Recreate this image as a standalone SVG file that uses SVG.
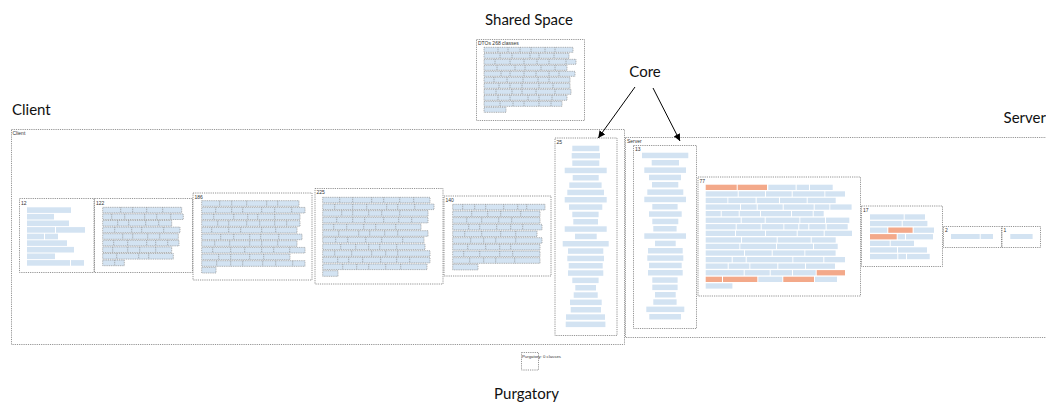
<svg xmlns="http://www.w3.org/2000/svg" width="1046" height="403" viewBox="0 0 1046 403">
<style>
.bg{fill:#fff}
.box{fill:none;stroke:#7a7a7a;stroke-width:.8;stroke-dasharray:1.2 1}
.b{fill:#d3e3f2}
.o{fill:#f3a98a}
.d{fill:#d3e3f2;stroke:#8c8c8c;stroke-width:.7;stroke-dasharray:1 .8}
.sep{fill:none;stroke:#8c8c8c;stroke-width:.7;stroke-dasharray:1 .8}
.cl{font-family:"Liberation Sans",Arial,sans-serif;font-size:5px;fill:#333}
.big{font-family:Lato,"Noto Sans",sans-serif;font-size:15px;fill:#111}
.arr{stroke:#000;stroke-width:1;fill:none}
</style>
<defs>
<marker id="ah" viewBox="0 0 10 10" refX="10" refY="5" markerWidth="7" markerHeight="7" orient="auto" markerUnits="userSpaceOnUse">
<path d="M0 0L10 5L0 10z" fill="#000"/>
</marker>
</defs>
<rect class="bg" width="1046" height="403"/>

<text class="big" x="529" y="25" text-anchor="middle">Shared Space</text>
<text class="big" x="12" y="115">Client</text>
<text class="big" x="1046" y="123" text-anchor="end">Server</text>
<text class="big" x="645" y="77" text-anchor="middle">Core</text>
<text class="big" x="526.5" y="399" text-anchor="middle">Purgatory</text>

<g id="shared">
<rect class="box" x="476.5" y="39.5" width="108" height="81"/>
<text class="cl" x="478" y="45">DTOs 268 classes</text>
<rect class="d" x="484" y="47.3" width="89" height="5"/>
<rect class="d" x="484" y="53.3" width="85" height="5"/>
<rect class="d" x="484" y="59.3" width="92" height="5"/>
<rect class="d" x="484" y="65.3" width="83" height="5"/>
<rect class="d" x="484" y="71.3" width="91" height="5"/>
<rect class="d" x="484" y="77.3" width="86" height="5"/>
<rect class="d" x="484" y="83.3" width="86" height="5"/>
<rect class="d" x="484" y="89.3" width="87" height="5"/>
<rect class="d" x="484" y="95.3" width="83" height="5"/>
<rect class="d" x="484" y="101.3" width="78" height="5"/>
<rect class="d" x="484" y="107.3" width="22" height="5"/>
<path class="sep" d="M498 47.3v5m10-5v5m12-5v5m11-5v5m14-5v5m10-5v5M500 53.3v5m12-5v5m18-5v5m9-5v5m15-5v5M495 59.3v5m15-5v5m14-5v5m13-5v5m12-5v5m17-5v5M497 65.3v5m18-5v5m10-5v5m16-5v5m14-5v5M501 71.3v5m9-5v5m14-5v5m12-5v5m13-5v5m10-5v5M494 77.3v5m13-5v5m16-5v5m15-5v5m11-5v5M499 83.3v5m11-5v5m12-5v5m17-5v5m14-5v5M496 89.3v5m16-5v5m10-5v5m14-5v5m19-5v5M498 95.3v5m12-5v5m18-5v5m11-5v5m13-5v5M500 101.3v5m13-5v5m11-5v5m15-5v5m12-5v5"/>
</g>

<g id="client">
<rect class="box" x="11.5" y="129.5" width="613" height="215"/>
<text class="cl" x="12.5" y="134.5">Client</text>
</g>

<g id="server">
<rect class="box" x="625.5" y="137.5" width="430" height="200"/>
<text class="cl" x="627" y="142.5">Server</text>
</g>

<g id="purgatory">
<rect class="box" x="521.5" y="352.5" width="17" height="17.5"/>
<text class="cl" x="522" y="358" style="font-size:4.3px">Purgatory: 0 classes</text>
</g>

<g id="c12">
<rect class="box" x="19.5" y="198.5" width="74.5" height="74"/>
<text class="cl" x="21" y="204.5">12</text>
<rect class="b" x="27" y="207.3" width="44" height="5.6"/>
<rect class="b" x="27" y="213.9" width="27" height="5.6"/>
<rect class="b" x="27" y="220.5" width="42" height="5.6"/>
<rect class="b" x="27" y="227.1" width="28" height="5.6"/>
<rect class="b" x="56" y="227.1" width="29" height="5.6"/>
<rect class="b" x="27" y="233.7" width="17" height="5.6"/>
<rect class="b" x="45" y="233.7" width="13" height="5.6"/>
<rect class="b" x="27" y="240.3" width="40" height="5.6"/>
<rect class="b" x="27" y="246.9" width="47" height="5.6"/>
<rect class="b" x="27" y="253.5" width="28" height="5.6"/>
<rect class="b" x="27" y="260.1" width="43" height="5.6"/>
<rect class="b" x="71" y="260.1" width="13" height="5.6"/>
</g>

<g id="c122">
<rect class="box" x="94.5" y="198.5" width="98" height="74"/>
<text class="cl" x="96" y="204.5">122</text>
<rect class="d" x="102.7" y="207.3" width="79" height="5.6"/>
<rect class="d" x="102.7" y="213.9" width="80.6" height="5.6"/>
<rect class="d" x="102.7" y="220.5" width="69" height="5.6"/>
<rect class="d" x="102.7" y="227.1" width="77.3" height="5.6"/>
<rect class="d" x="102.7" y="233.7" width="75.6" height="5.6"/>
<rect class="d" x="102.7" y="240.3" width="76.3" height="5.6"/>
<rect class="d" x="102.7" y="246.9" width="69" height="5.6"/>
<rect class="d" x="102.7" y="253.5" width="70.6" height="5.6"/>
<rect class="d" x="102.7" y="260.1" width="21.6" height="5.6"/>
<path class="sep" d="M120.7 207.3v5.6m12-5.6v5.6m14-5.6v5.6m16-5.6v5.6M111.7 213.9v5.6m13-5.6v5.6m20-5.6v5.6m12-5.6v5.6m14-5.6v5.6M117.7 220.5v5.6m11-5.6v5.6m17-5.6v5.6m13-5.6v5.6M114.7 227.1v5.6m17-5.6v5.6m10-5.6v5.6m22-5.6v5.6M122.7 233.7v5.6m10-5.6v5.6m15-5.6v5.6m12-5.6v5.6M113.7 240.3v5.6m14-5.6v5.6m19-5.6v5.6m9-5.6v5.6m12-5.6v5.6M112.7 246.9v5.6m15-5.6v5.6m12-5.6v5.6m16-5.6v5.6M116.7 253.5v5.6m22-5.6v5.6m10-5.6v5.6M114.7 260.1v5.6"/>
</g>

<g id="c186">
<rect class="box" x="193" y="193" width="119" height="87"/>
<text class="cl" x="194.5" y="198.5">186</text>
<rect class="d" x="201.7" y="200.7" width="97.3" height="5.6"/>
<rect class="d" x="201.7" y="207.4" width="103.3" height="5.6"/>
<rect class="d" x="201.7" y="214" width="98.3" height="5.6"/>
<rect class="d" x="201.7" y="220.7" width="98.3" height="5.6"/>
<rect class="d" x="201.7" y="227.4" width="95.3" height="5.6"/>
<rect class="d" x="201.7" y="234.1" width="100.3" height="5.6"/>
<rect class="d" x="201.7" y="240.7" width="95.3" height="5.6"/>
<rect class="d" x="201.7" y="247.4" width="103.3" height="5.6"/>
<rect class="d" x="201.7" y="254.1" width="88.3" height="5.6"/>
<rect class="d" x="201.7" y="260.7" width="103.3" height="5.6"/>
<rect class="d" x="201.7" y="267.4" width="14.3" height="5.6"/>
<path class="sep" d="M219.7 200.7v5.6m12-5.6v5.6m15-5.6v5.6m20-5.6v5.6m11-5.6v5.6M215.7 207.4v5.6m16-5.6v5.6m11-5.6v5.6m19-5.6v5.6m13-5.6v5.6m17-5.6v5.6M213.7 214v5.6m20-5.6v5.6m14-5.6v5.6m10-5.6v5.6m17-5.6v5.6M217.7 220.7v5.6m11-5.6v5.6m18-5.6v5.6m13-5.6v5.6m15-5.6v5.6m12-5.6v5.6M211.7 227.4v5.6m17-5.6v5.6m12-5.6v5.6m21-5.6v5.6m14-5.6v5.6M220.7 234.1v5.6m13-5.6v5.6m16-5.6v5.6m11-5.6v5.6m18-5.6v5.6M214.7 240.7v5.6m15-5.6v5.6m20-5.6v5.6m12-5.6v5.6m16-5.6v5.6M212.7 247.4v5.6m18-5.6v5.6m14-5.6v5.6m17-5.6v5.6m12-5.6v5.6m16-5.6v5.6M218.7 254.1v5.6m12-5.6v5.6m19-5.6v5.6m14-5.6v5.6M216.7 260.7v5.6m14-5.6v5.6m12-5.6v5.6m20-5.6v5.6m13-5.6v5.6m17-5.6v5.6"/>
</g>

<g id="c225">
<rect class="box" x="315" y="188.5" width="128" height="95.5"/>
<text class="cl" x="316.5" y="194">225</text>
<rect class="d" x="322.7" y="197.3" width="107.3" height="5.6"/>
<rect class="d" x="322.7" y="204" width="111.3" height="5.6"/>
<rect class="d" x="322.7" y="210.6" width="105.3" height="5.6"/>
<rect class="d" x="322.7" y="217.3" width="105.3" height="5.6"/>
<rect class="d" x="322.7" y="224" width="98.3" height="5.6"/>
<rect class="d" x="322.7" y="230.7" width="105.3" height="5.6"/>
<rect class="d" x="322.7" y="237.3" width="101.3" height="5.6"/>
<rect class="d" x="322.7" y="244" width="102.3" height="5.6"/>
<rect class="d" x="322.7" y="250.7" width="107.3" height="5.6"/>
<rect class="d" x="322.7" y="257.3" width="107.3" height="5.6"/>
<rect class="d" x="322.7" y="264" width="104.3" height="5.6"/>
<rect class="d" x="322.7" y="270.7" width="15.3" height="5.6"/>
<path class="sep" d="M339.7 197.3v5.6m13-5.6v5.6m19-5.6v5.6m12-5.6v5.6m16-5.6v5.6m14-5.6v5.6M334.7 204v5.6m18-5.6v5.6m14-5.6v5.6m20-5.6v5.6m11-5.6v5.6m17-5.6v5.6M341.7 210.6v5.6m11-5.6v5.6m16-5.6v5.6m13-5.6v5.6m18-5.6v5.6M336.7 217.3v5.6m16-5.6v5.6m12-5.6v5.6m19-5.6v5.6m15-5.6v5.6m13-5.6v5.6M333.7 224v5.6m13-5.6v5.6m17-5.6v5.6m12-5.6v5.6m20-5.6v5.6M338.7 230.7v5.6m20-5.6v5.6m11-5.6v5.6m15-5.6v5.6m13-5.6v5.6M335.7 237.3v5.6m12-5.6v5.6m18-5.6v5.6m16-5.6v5.6m21-5.6v5.6M340.7 244v5.6m15-5.6v5.6m13-5.6v5.6m11-5.6v5.6m17-5.6v5.6M334.7 250.7v5.6m17-5.6v5.6m20-5.6v5.6m14-5.6v5.6m12-5.6v5.6M337.7 257.3v5.6m11-5.6v5.6m14-5.6v5.6m18-5.6v5.6m16-5.6v5.6m13-5.6v5.6M342.7 264v5.6m14-5.6v5.6m12-5.6v5.6m17-5.6v5.6m15-5.6v5.6"/>
</g>

<g id="c140">
<rect class="box" x="444" y="196" width="107" height="80"/>
<text class="cl" x="445.5" y="201.5">140</text>
<rect class="d" x="452.7" y="204.3" width="92.3" height="5.6"/>
<rect class="d" x="452.7" y="211" width="87.3" height="5.6"/>
<rect class="d" x="452.7" y="217.6" width="87.3" height="5.6"/>
<rect class="d" x="452.7" y="224.3" width="89.3" height="5.6"/>
<rect class="d" x="452.7" y="231" width="84.3" height="5.6"/>
<rect class="d" x="452.7" y="237.7" width="89.3" height="5.6"/>
<rect class="d" x="452.7" y="244.3" width="87.3" height="5.6"/>
<rect class="d" x="452.7" y="251" width="87.3" height="5.6"/>
<rect class="d" x="452.7" y="257.7" width="87.3" height="5.6"/>
<rect class="d" x="452.7" y="264.3" width="25.3" height="5.6"/>
<path class="sep" d="M462.7 204.3v5.6m12-5.6v5.6m11-5.6v5.6m18-5.6v5.6m14-5.6v5.6m9-5.6v5.6M471.7 211v5.6m16-5.6v5.6m13-5.6v5.6m20-5.6v5.6M466.7 217.6v5.6m15-5.6v5.6m17-5.6v5.6m13-5.6v5.6M468.7 224.3v5.6m11-5.6v5.6m17-5.6v5.6m14-5.6v5.6m12-5.6v5.6M464.7 231v5.6m17-5.6v5.6m19-5.6v5.6m15-5.6v5.6M470.7 237.7v5.6m13-5.6v5.6m12-5.6v5.6m20-5.6v5.6M467.7 244.3v5.6m18-5.6v5.6m14-5.6v5.6m11-5.6v5.6M463.7 251v5.6m16-5.6v5.6m20-5.6v5.6m13-5.6v5.6M469.7 257.7v5.6m14-5.6v5.6m12-5.6v5.6m19-5.6v5.6"/>
</g>

<g id="c25">
<rect class="box" x="555" y="138" width="62" height="197.5"/>
<text class="cl" x="556.5" y="143.5">25</text>
<rect class="b" x="572.3" y="145.7" width="27" height="5.5"/>
<rect class="b" x="571.7" y="153" width="28.3" height="5.5"/>
<rect class="b" x="572.3" y="160.4" width="27" height="5.5"/>
<rect class="b" x="564.7" y="167.7" width="42" height="5.5"/>
<rect class="b" x="572.7" y="175" width="26" height="5.5"/>
<rect class="b" x="569.3" y="182.4" width="32.3" height="5.5"/>
<rect class="b" x="567.3" y="189.7" width="36.7" height="5.5"/>
<rect class="b" x="564.7" y="197" width="42" height="5.5"/>
<rect class="b" x="569" y="204.3" width="33.3" height="5.5"/>
<rect class="b" x="572.3" y="211.7" width="26.3" height="5.5"/>
<rect class="b" x="573.3" y="219" width="24.7" height="5.5"/>
<rect class="b" x="564.7" y="226.3" width="42" height="5.5"/>
<rect class="b" x="575" y="233.7" width="21.7" height="5.5"/>
<rect class="b" x="562.7" y="241" width="46" height="5.5"/>
<rect class="b" x="568" y="248.3" width="35.3" height="5.5"/>
<rect class="b" x="567.3" y="255.7" width="36.7" height="5.5"/>
<rect class="b" x="568.7" y="263" width="34" height="5.5"/>
<rect class="b" x="568" y="270.3" width="35.3" height="5.5"/>
<rect class="b" x="572.3" y="277.6" width="26.3" height="5.5"/>
<rect class="b" x="575.3" y="285" width="20.7" height="5.5"/>
<rect class="b" x="573.7" y="292.3" width="24" height="5.5"/>
<rect class="b" x="570" y="299.6" width="31.7" height="5.5"/>
<rect class="b" x="570.7" y="307" width="30.3" height="5.5"/>
<rect class="b" x="566" y="314.3" width="39" height="5.5"/>
<rect class="b" x="565.7" y="321.6" width="39.7" height="5.5"/>
</g>

<g id="c13">
<rect class="box" x="633.5" y="145.5" width="63" height="183"/>
<text class="cl" x="635" y="151">13</text>
<rect class="b" x="642" y="152.7" width="46.3" height="5.5"/>
<rect class="b" x="651.7" y="160" width="27.3" height="5.5"/>
<rect class="b" x="644.3" y="167.4" width="41.7" height="5.5"/>
<rect class="b" x="649" y="174.7" width="32" height="5.5"/>
<rect class="b" x="652" y="182" width="26.3" height="5.5"/>
<rect class="b" x="647.3" y="189.4" width="36" height="5.5"/>
<rect class="b" x="644.3" y="196.7" width="41.7" height="5.5"/>
<rect class="b" x="652.3" y="204" width="25.3" height="5.5"/>
<rect class="b" x="649" y="211.3" width="32.7" height="5.5"/>
<rect class="b" x="652.3" y="218.7" width="26" height="5.5"/>
<rect class="b" x="653.3" y="226" width="23.3" height="5.5"/>
<rect class="b" x="644.3" y="233.3" width="41.7" height="5.5"/>
<rect class="b" x="655" y="240.7" width="20.7" height="5.5"/>
<rect class="b" x="648" y="248" width="34.7" height="5.5"/>
<rect class="b" x="647.3" y="255.3" width="36" height="5.5"/>
<rect class="b" x="649" y="262.7" width="32.7" height="5.5"/>
<rect class="b" x="648" y="270" width="34.7" height="5.5"/>
<rect class="b" x="652.3" y="277.3" width="25.3" height="5.5"/>
<rect class="b" x="652.3" y="284.6" width="25.3" height="5.5"/>
<rect class="b" x="655" y="292" width="20.7" height="5.5"/>
<rect class="b" x="653.3" y="299.3" width="23.3" height="5.5"/>
<rect class="b" x="646.3" y="306.6" width="38" height="5.5"/>
<rect class="b" x="649.3" y="314" width="31.7" height="5.5"/>
</g>

<g id="c77">
<rect class="box" x="698" y="177" width="162.5" height="119"/>
<text class="cl" x="699.5" y="182.5">77</text>
<rect class="o" x="705.7" y="184.7" width="31" height="5.3"/><rect class="o" x="737.7" y="184.7" width="29.3" height="5.3"/><rect class="b" x="768.3" y="184.7" width="27.3" height="5.3"/><rect class="b" x="796.7" y="184.7" width="12.3" height="5.3"/><rect class="b" x="810" y="184.7" width="22.7" height="5.3"/>
<rect class="b" x="705.7" y="191.3" width="32" height="5.3"/><rect class="b" x="738.7" y="191.3" width="26.3" height="5.3"/><rect class="b" x="766" y="191.3" width="25.7" height="5.3"/><rect class="b" x="792.7" y="191.3" width="31.7" height="5.3"/><rect class="b" x="825.3" y="191.3" width="19.7" height="5.3"/>
<rect class="b" x="705.7" y="197.8" width="21.7" height="5.3"/><rect class="b" x="728.3" y="197.8" width="27.3" height="5.3"/><rect class="b" x="756.7" y="197.8" width="22.3" height="5.3"/><rect class="b" x="780" y="197.8" width="26.7" height="5.3"/><rect class="b" x="807.7" y="197.8" width="28" height="5.3"/>
<rect class="b" x="705.7" y="204.4" width="34.3" height="5.3"/><rect class="b" x="741" y="204.4" width="15.7" height="5.3"/><rect class="b" x="757.7" y="204.4" width="25" height="5.3"/><rect class="b" x="783.7" y="204.4" width="30" height="5.3"/><rect class="b" x="814.7" y="204.4" width="14.7" height="5.3"/><rect class="b" x="830.3" y="204.4" width="21.3" height="5.3"/>
<rect class="b" x="705.7" y="211" width="15" height="5.3"/><rect class="b" x="721.7" y="211" width="17" height="5.3"/><rect class="b" x="739.7" y="211" width="20.3" height="5.3"/><rect class="b" x="761" y="211" width="30" height="5.3"/><rect class="b" x="792" y="211" width="20.7" height="5.3"/><rect class="b" x="813.7" y="211" width="10" height="5.3"/>
<rect class="b" x="705.7" y="217.6" width="35" height="5.3"/><rect class="b" x="741.7" y="217.6" width="23" height="5.3"/><rect class="b" x="765.7" y="217.6" width="33.7" height="5.3"/><rect class="b" x="800.3" y="217.6" width="24.7" height="5.3"/><rect class="b" x="826" y="217.6" width="23.3" height="5.3"/>
<rect class="b" x="705.7" y="224.1" width="30" height="5.3"/><rect class="b" x="736.7" y="224.1" width="24" height="5.3"/><rect class="b" x="761.7" y="224.1" width="21.7" height="5.3"/><rect class="b" x="784.3" y="224.1" width="14" height="5.3"/><rect class="b" x="799.3" y="224.1" width="9" height="5.3"/><rect class="b" x="809.3" y="224.1" width="16.3" height="5.3"/><rect class="b" x="826.7" y="224.1" width="21" height="5.3"/>
<rect class="b" x="705.7" y="230.7" width="29.3" height="5.3"/><rect class="b" x="736" y="230.7" width="29" height="5.3"/><rect class="b" x="766" y="230.7" width="30.7" height="5.3"/><rect class="b" x="797.7" y="230.7" width="26" height="5.3"/><rect class="b" x="824.7" y="230.7" width="27.3" height="5.3"/>
<rect class="b" x="705.7" y="237.3" width="35.3" height="5.3"/><rect class="b" x="742" y="237.3" width="34.7" height="5.3"/><rect class="b" x="777.7" y="237.3" width="33" height="5.3"/><rect class="b" x="811.7" y="237.3" width="24" height="5.3"/>
<rect class="b" x="705.7" y="243.8" width="33.7" height="5.3"/><rect class="b" x="740.3" y="243.8" width="35.7" height="5.3"/><rect class="b" x="777" y="243.8" width="36" height="5.3"/><rect class="b" x="814" y="243.8" width="23.7" height="5.3"/>
<rect class="b" x="705.7" y="250.4" width="38.3" height="5.3"/><rect class="b" x="745" y="250.4" width="26.7" height="5.3"/><rect class="b" x="772.7" y="250.4" width="31.7" height="5.3"/><rect class="b" x="805.3" y="250.4" width="30.3" height="5.3"/>
<rect class="b" x="705.7" y="257" width="26" height="5.3"/><rect class="b" x="732.7" y="257" width="13" height="5.3"/><rect class="b" x="746.7" y="257" width="45.7" height="5.3"/><rect class="b" x="793.3" y="257" width="30" height="5.3"/><rect class="b" x="824.3" y="257" width="20.7" height="5.3"/>
<rect class="b" x="705.7" y="263.5" width="22" height="5.3"/><rect class="b" x="728.7" y="263.5" width="20.7" height="5.3"/><rect class="b" x="750.3" y="263.5" width="27" height="5.3"/><rect class="b" x="778.3" y="263.5" width="26.7" height="5.3"/><rect class="b" x="806" y="263.5" width="29" height="5.3"/>
<rect class="b" x="705.7" y="270.1" width="38" height="5.3"/><rect class="b" x="744.7" y="270.1" width="25" height="5.3"/><rect class="b" x="770.7" y="270.1" width="21.3" height="5.3"/><rect class="b" x="793" y="270.1" width="22.7" height="5.3"/><rect class="o" x="816.7" y="270.1" width="28.3" height="5.3"/>
<rect class="o" x="705.7" y="276.7" width="16.3" height="5.3"/><rect class="o" x="723" y="276.7" width="34.3" height="5.3"/><rect class="b" x="758.3" y="276.7" width="24" height="5.3"/><rect class="o" x="783.3" y="276.7" width="30.7" height="5.3"/><rect class="b" x="815" y="276.7" width="22" height="5.3"/>
<rect class="b" x="705.7" y="283.3" width="26.7" height="5.3"/>
</g>

<g id="c17">
<rect class="box" x="861.5" y="206" width="81" height="60.5"/>
<text class="cl" x="863" y="211.5">17</text>
<rect class="b" x="870" y="214.3" width="33.7" height="5.3"/><rect class="b" x="904.7" y="214.3" width="20.3" height="5.3"/>
<rect class="b" x="870" y="220.9" width="31.7" height="5.3"/><rect class="b" x="902.7" y="220.9" width="24.7" height="5.3"/>
<rect class="b" x="870" y="227.5" width="17.3" height="5.3"/><rect class="o" x="888.3" y="227.5" width="24.3" height="5.3"/><rect class="b" x="913.7" y="227.5" width="20.3" height="5.3"/>
<rect class="o" x="870" y="234.1" width="26.7" height="5.3"/><rect class="b" x="897.7" y="234.1" width="7.3" height="5.3"/><rect class="b" x="906" y="234.1" width="27" height="5.3"/>
<rect class="b" x="870" y="240.7" width="19.7" height="5.3"/><rect class="b" x="890.7" y="240.7" width="23.3" height="5.3"/>
<rect class="b" x="870" y="247.3" width="27" height="5.3"/><rect class="b" x="898" y="247.3" width="29" height="5.3"/>
<rect class="b" x="870" y="253.9" width="27.3" height="5.3"/><rect class="b" x="898.3" y="253.9" width="7.7" height="5.3"/><rect class="b" x="907" y="253.9" width="22.7" height="5.3"/>
</g>

<g id="c2">
<rect class="box" x="943.5" y="226.5" width="58" height="21"/>
<text class="cl" x="945" y="232">2</text>
<rect class="b" x="951" y="234" width="28.7" height="5"/>
<rect class="b" x="980.7" y="234" width="12.3" height="5"/>
</g>

<g id="c1">
<rect class="box" x="1002" y="226.5" width="38.5" height="21"/>
<text class="cl" x="1003.5" y="232">1</text>
<rect class="b" x="1010.3" y="234" width="22.3" height="5"/>
</g>

<g id="connectors">
<line class="arr" x1="635" y1="87" x2="598.3" y2="138" marker-end="url(#ah)"/>
<line class="arr" x1="653" y1="88" x2="680" y2="141" marker-end="url(#ah)"/>
</g>
</svg>
